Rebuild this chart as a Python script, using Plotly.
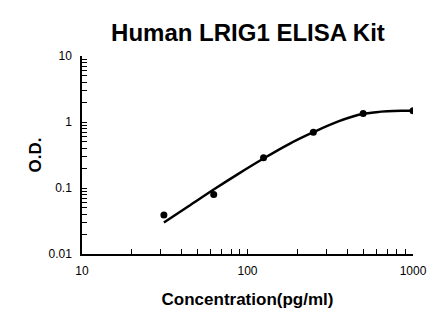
import plotly.graph_objects as go

conc = [31.25, 62.5, 125, 250, 500, 1000]
od = [0.039, 0.080, 0.288, 0.70, 1.34, 1.48]

curve_x = [31.25, 44, 62.5, 88, 125, 177, 250, 354, 500, 600, 700, 850, 1000]
curve_y = [0.030, 0.053, 0.095, 0.164, 0.28, 0.459, 0.70, 1.02, 1.33, 1.41, 1.45, 1.475, 1.48]

x_major = [10, 100, 1000]
x_major_text = ["10", "100", "1000"]
y_major = [0.01, 0.1, 1, 10]
y_major_text = ["0.01", "0.1", "1", "10"]

def with_minor(majors, texts):
    vals, labels = [], []
    for m, t in zip(majors, texts):
        vals.append(m)
        labels.append(t)
        if m != majors[-1]:
            for k in range(2, 10):
                vals.append(m * k)
                labels.append("")
    return vals, labels

xv, xt = with_minor(x_major, x_major_text)
yv, yt = with_minor(y_major, y_major_text)

fig = go.Figure()
fig.add_trace(go.Scatter(x=curve_x, y=curve_y, mode="lines",
                         line=dict(color="black", width=2.5, shape="spline", smoothing=1),
                         hoverinfo="skip"))
fig.add_trace(go.Scatter(x=conc, y=od, mode="markers",
                         marker=dict(color="black", size=7)))

font = "Liberation Sans, Arial, sans-serif"
fig.update_layout(
    template="none",
    width=446, height=326,
    margin=dict(l=82, r=33, t=56, b=72),
    paper_bgcolor="white", plot_bgcolor="white",
    showlegend=False,
    title=dict(text="<b>Human LRIG1 ELISA Kit</b>", x=0.556, xanchor="center",
               y=1 - 33 / 326, yanchor="middle",
               font=dict(family=font, size=24, color="black")),
    font=dict(family=font, size=12, color="black"),
)
fig.update_xaxes(type="log", range=[1, 3], showline=True, linecolor="black", linewidth=1.5,
                 showgrid=False, zeroline=False, ticks="inside", ticklen=5, tickcolor="black",
                 tickwidth=1.2, tickmode="array", tickvals=xv, ticktext=xt, ticklabelstandoff=5,
                 title=dict(text="<b>Concentration(pg/ml)</b>", font=dict(size=17, family=font), standoff=16))
fig.update_yaxes(type="log", range=[-2, 1], showline=True, linecolor="black", linewidth=1.5,
                 showgrid=False, zeroline=False, ticks="inside", ticklen=5, tickcolor="black",
                 tickwidth=1.2, tickmode="array", tickvals=yv, ticktext=yt, ticklabelstandoff=6,
                 title=dict(text="<b>O.D.</b>", font=dict(size=17, family=font), standoff=3))

fig.write_html("out.html")
